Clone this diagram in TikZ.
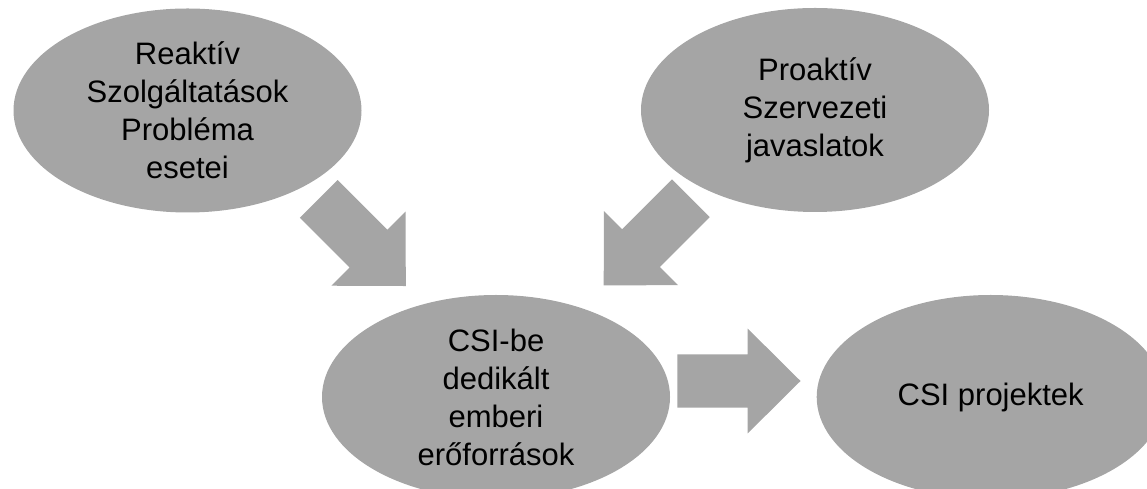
\documentclass[tikz,border=0pt]{standalone}
\usepackage{fontspec}
\setmainfont{Liberation Sans}
\usetikzlibrary{shapes.geometric}
\definecolor{shapegray}{RGB}{165,165,165}
\begin{document}
\begin{tikzpicture}[x=1pt,y=1pt,
  bubble/.style={ellipse, fill=shapegray, minimum width=348pt, minimum height=204pt,
    inner sep=0pt, align=center, font=\fontsize{31}{38}\selectfont},
  % block arrow drawn from its tail (origin) along +x to its tip
  blockarrow/.pic={
    \fill[shapegray] (0,-26.7) -- (70.4,-26.7) -- (70.4,-52.4) -- (123.2,0)
      -- (70.4,52.4) -- (70.4,26.7) -- (0,26.7) -- cycle;
  }]
\useasboundingbox (0,0) rectangle (1147,489);
\clip (0,0) rectangle (1147,489);
% sources, target pool and outcome
\node[bubble] (reaktiv) at (187.5,378.5) {Reaktív\\Szolgáltatások\\Probléma\\esetei};
\node[bubble] (proaktiv) at (815,379) {Proaktív\\Szervezeti\\javaslatok};
\node[bubble] (csibe) at (496,92) {CSI-be\\dedikált\\emberi\\erőforrások};
\node[bubble] (projektek) at (990.7,92) {CSI projektek};
% block arrows between the bubbles
\coordinate (tail-reaktiv) at (318.7,290.1);
\coordinate (tail-proaktiv) at (690.8,290.7);
\coordinate (tail-csibe) at (677.3,108);
\pic[rotate=-45] at (tail-reaktiv) {blockarrow};
\pic[rotate=-135] at (tail-proaktiv) {blockarrow};
\pic at (tail-csibe) {blockarrow};
\end{tikzpicture}
\end{document}
